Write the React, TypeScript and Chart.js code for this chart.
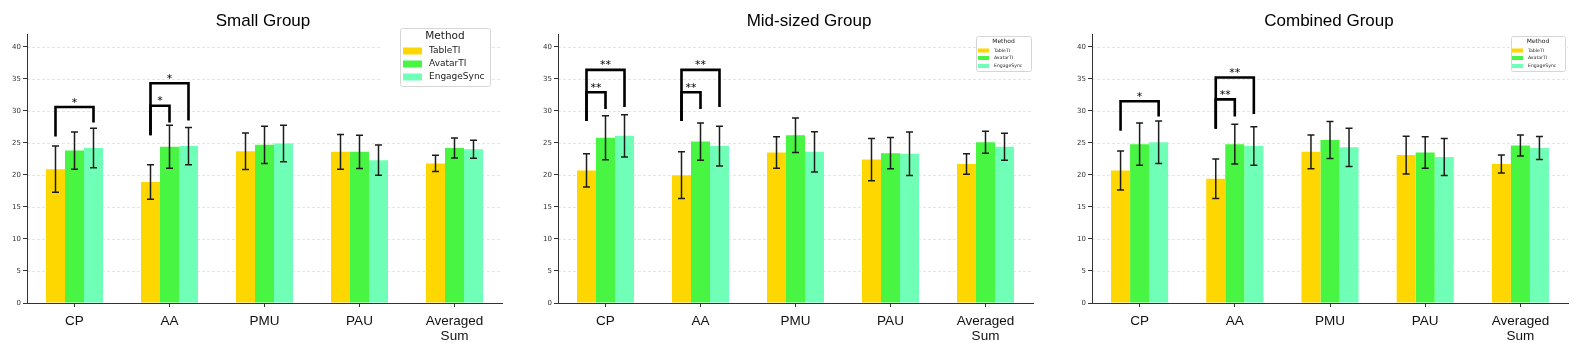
import React, { useEffect, useRef } from 'react';
import { Chart, registerables } from 'chart.js';

Chart.register(...registerables);

// ---------- data ----------
const CATEGORIES: (string | string[])[] = ['CP', 'AA', 'PMU', 'PAU', ['Averaged', 'Sum']];
const SERIES = ['TableTI', 'AvatarTI', 'EngageSync'];
const COLORS = ['#FFD700', '#48F542', '#70FFB6'];
const Y_TICKS = [0, 5, 10, 15, 20, 25, 30, 35, 40];
const Y_MAX = 42;

const SMALL_TABLETI = [20.9, 18.9, 23.7, 23.6, 21.8];
const SMALL_TABLETI_ERR = [3.6, 2.7, 2.85, 2.7, 1.25];
const SMALL_AVATARTI = [23.8, 24.4, 24.7, 23.6, 24.2];
const SMALL_AVATARTI_ERR = [2.9, 3.35, 2.9, 2.6, 1.55];
const SMALL_ENGAGESYNC = [24.2, 24.5, 24.9, 22.3, 24.0];
const SMALL_ENGAGESYNC_ERR = [3.1, 2.9, 2.85, 2.35, 1.4];

const MID_TABLETI = [20.7, 19.95, 23.5, 22.4, 21.7];
const MID_TABLETI_ERR = [2.6, 3.65, 2.45, 3.3, 1.6];
const MID_AVATARTI = [25.8, 25.2, 26.2, 23.4, 25.1];
const MID_AVATARTI_ERR = [3.45, 2.9, 2.7, 2.45, 1.7];
const MID_ENGAGESYNC = [26.1, 24.5, 23.6, 23.3, 24.4];
const MID_ENGAGESYNC_ERR = [3.3, 3.1, 3.15, 3.4, 2.1];

const COMB_TABLETI = [20.7, 19.4, 23.6, 23.1, 21.7];
const COMB_TABLETI_ERR = [3.05, 3.1, 2.65, 2.95, 1.4];
const COMB_AVATARTI = [24.8, 24.8, 25.45, 23.5, 24.6];
const COMB_AVATARTI_ERR = [3.3, 3.1, 2.9, 2.45, 1.65];
const COMB_ENGAGESYNC = [25.1, 24.5, 24.3, 22.8, 24.2];
const COMB_ENGAGESYNC_ERR = [3.3, 3.0, 3.0, 2.9, 1.8];

// significance brackets: category index, from/to series index, leg bottoms and top (data units)
const SMALL_BRACKETS = [
  { cat: 0, from: 0, to: 2, left: 26.0, right: 28.2, top: 30.6, label: '*' },
  { cat: 1, from: 0, to: 1, left: 26.2, right: 28.2, top: 30.8, label: '*' },
  { cat: 1, from: 0, to: 2, left: 26.2, right: 28.5, top: 34.3, label: '*' },
];
const MID_BRACKETS = [
  { cat: 0, from: 0, to: 1, left: 28.4, right: 30.3, top: 32.9, label: '**' },
  { cat: 0, from: 0, to: 2, left: 28.4, right: 30.6, top: 36.4, label: '**' },
  { cat: 1, from: 0, to: 1, left: 28.4, right: 30.3, top: 32.9, label: '**' },
  { cat: 1, from: 0, to: 2, left: 28.4, right: 30.6, top: 36.4, label: '**' },
];
const COMB_BRACKETS = [
  { cat: 0, from: 0, to: 2, left: 26.9, right: 29.1, top: 31.5, label: '*' },
  { cat: 1, from: 0, to: 1, left: 27.2, right: 29.1, top: 31.8, label: '**' },
  { cat: 1, from: 0, to: 2, left: 27.2, right: 29.5, top: 35.2, label: '**' },
];

// ---------- layout ----------
const PANELS = [
  {
    title: 'Small Group',
    values: [SMALL_TABLETI, SMALL_AVATARTI, SMALL_ENGAGESYNC],
    errors: [SMALL_TABLETI_ERR, SMALL_AVATARTI_ERR, SMALL_ENGAGESYNC_ERR],
    brackets: SMALL_BRACKETS,
    left: 0, width: 530, padRight: 28, titleX: 263,
    legend: { x: 400, y: 28, w: 90, h: 58, erase: 18, titleSize: 10.5, titleY: 36, labelSize: 9,
      rows: [51, 64, 77], patchX: 403, patchW: 19, patchH: 7, labelX: 429 },
  },
  {
    title: 'Mid-sized Group',
    values: [MID_TABLETI, MID_AVATARTI, MID_ENGAGESYNC],
    errors: [MID_TABLETI_ERR, MID_AVATARTI_ERR, MID_ENGAGESYNC_ERR],
    brackets: MID_BRACKETS,
    left: 531, width: 530, padRight: 28, titleX: 278,
    legend: { x: 445, y: 36, w: 55, h: 35, erase: 0, titleSize: 6, titleY: 41.5, labelSize: 4.6,
      rows: [50.5, 58, 66], patchX: 447, patchW: 11, patchH: 4, labelX: 463 },
  },
  {
    title: 'Combined Group',
    values: [COMB_TABLETI, COMB_AVATARTI, COMB_ENGAGESYNC],
    errors: [COMB_TABLETI_ERR, COMB_AVATARTI_ERR, COMB_ENGAGESYNC_ERR],
    brackets: COMB_BRACKETS,
    left: 1065, width: 513, padRight: 10, titleX: 264,
    legend: { x: 446, y: 36, w: 54, h: 35, erase: 0, titleSize: 6, titleY: 41.5, labelSize: 4.6,
      rows: [50.5, 58, 66], patchX: 447, patchW: 11, patchH: 4, labelX: 463 },
  },
];

const HEIGHT = 343;

function makeOverlay(panel: any) {
  return {
    id: 'overlay',
    beforeDatasetsDraw(chart: any) {
      const { ctx, chartArea } = chart;
      const y = chart.scales.y;
      ctx.save();
      ctx.strokeStyle = 'rgba(0,0,0,0.13)';
      ctx.lineWidth = 0.8;
      ctx.setLineDash([3, 2]);
      for (const v of Y_TICKS) {
        if (v === 0) continue;
        const py = Math.round(y.getPixelForValue(v)) + 0.5;
        ctx.beginPath();
        ctx.moveTo(chartArea.left, py);
        ctx.lineTo(chartArea.right, py);
        ctx.stroke();
      }
      ctx.restore();
    },
    afterDatasetsDraw(chart: any) {
      const { ctx } = chart;
      const y = chart.scales.y;
      ctx.save();
      // error bars
      ctx.strokeStyle = '#1c1c1c';
      ctx.lineWidth = 1.5;
      panel.errors.forEach((errArr: number[], di: number) => {
        const meta = chart.getDatasetMeta(di);
        meta.data.forEach((bar: any, i: number) => {
          const v = panel.values[di][i];
          const e = errArr[i];
          const x = bar.x;
          const yt = y.getPixelForValue(v + e);
          const yb = y.getPixelForValue(v - e);
          ctx.beginPath();
          ctx.moveTo(x, yt);
          ctx.lineTo(x, yb);
          ctx.moveTo(x - 3.5, yt);
          ctx.lineTo(x + 3.5, yt);
          ctx.moveTo(x - 3.5, yb);
          ctx.lineTo(x + 3.5, yb);
          ctx.stroke();
        });
      });
      // brackets
      ctx.strokeStyle = '#000';
      ctx.lineWidth = 2.6;
      ctx.lineJoin = 'miter';
      ctx.fillStyle = '#000';
      ctx.font = '11px "DejaVu Sans"';
      ctx.textAlign = 'center';
      ctx.textBaseline = 'alphabetic';
      for (const b of panel.brackets) {
        const x1 = chart.getDatasetMeta(b.from).data[b.cat].x;
        const x2 = chart.getDatasetMeta(b.to).data[b.cat].x;
        const yl = y.getPixelForValue(b.left);
        const yr = y.getPixelForValue(b.right);
        const yt = y.getPixelForValue(b.top);
        ctx.beginPath();
        ctx.moveTo(x1, yl);
        ctx.lineTo(x1, yt);
        ctx.lineTo(x2, yt);
        ctx.lineTo(x2, yr);
        ctx.stroke();
        ctx.fillText(b.label, (x1 + x2) / 2, yt - 1.5);
      }
      // legend
      const L = panel.legend;
      if (L.erase) {
        ctx.fillStyle = '#fff';
        ctx.fillRect(L.x - L.erase, L.y, L.erase, L.h);
      }
      ctx.fillStyle = 'rgba(255,255,255,0.9)';
      ctx.strokeStyle = '#d6d6d6';
      ctx.lineWidth = 1;
      ctx.beginPath();
      (ctx as any).roundRect ? ctx.roundRect(L.x + 0.5, L.y + 0.5, L.w, L.h, 2) : ctx.rect(L.x + 0.5, L.y + 0.5, L.w, L.h);
      ctx.fill();
      ctx.stroke();
      ctx.fillStyle = '#222';
      ctx.textAlign = 'center';
      ctx.textBaseline = 'middle';
      ctx.font = `${L.titleSize}px "DejaVu Sans"`;
      ctx.fillText('Method', L.x + L.w / 2, L.titleY);
      ctx.textAlign = 'left';
      ctx.font = `${L.labelSize}px "DejaVu Sans"`;
      SERIES.forEach((s, i) => {
        ctx.fillStyle = COLORS[i];
        ctx.fillRect(L.patchX, L.rows[i] - L.patchH / 2, L.patchW, L.patchH);
        ctx.fillStyle = '#222';
        ctx.fillText(s, L.labelX, L.rows[i]);
      });
      // title
      ctx.fillStyle = '#000';
      ctx.textAlign = 'center';
      ctx.textBaseline = 'alphabetic';
      ctx.font = '17px "Liberation Sans"';
      ctx.fillText(panel.title, panel.titleX, 26);
      ctx.restore();
    },
  };
}

function Panel({ panel }: { panel: any }) {
  const ref = useRef<HTMLCanvasElement>(null);
  useEffect(() => {
    if (!ref.current) return;
    const chart = new Chart(ref.current, {
      type: 'bar',
      data: {
        labels: CATEGORIES as any,
        datasets: SERIES.map((s, i) => ({
          label: s,
          data: panel.values[i],
          backgroundColor: COLORS[i],
          borderWidth: 0,
          categoryPercentage: 0.6,
          barPercentage: 1.0,
        })),
      },
      options: {
        animation: false,
        responsive: false,
        devicePixelRatio: 1,
        layout: { padding: { top: 34, right: panel.padRight, left: 0, bottom: 0 } },
        plugins: { legend: { display: false }, tooltip: { enabled: false }, title: { display: false } },
        scales: {
          x: {
            type: 'category',
            offset: true,
            grid: { offset: false, drawOnChartArea: false, tickColor: '#333', tickLength: 4, tickWidth: 1 },
            border: { color: '#333', width: 1 },
            ticks: {
              font: { family: '"Liberation Sans"', size: 13.5, lineHeight: 1.1 },
              color: '#111', padding: 7, maxRotation: 0, autoSkip: false,
            },
            afterFit: (s: any) => { s.height = 40; },
          },
          y: {
            min: 0,
            max: Y_MAX,
            afterBuildTicks: (s: any) => { s.ticks = Y_TICKS.map((v) => ({ value: v })); },
            afterFit: (s: any) => { s.width = 27; },
            grid: { drawOnChartArea: false, tickColor: '#333', tickLength: 4, tickWidth: 1 },
            border: { color: '#333', width: 1 },
            ticks: { font: { family: '"DejaVu Sans"', size: 7 }, color: '#333', padding: 2 },
          },
        },
      } as any,
      plugins: [makeOverlay(panel)],
    });
    return () => chart.destroy();
  }, [panel]);
  return (
    <canvas
      ref={ref}
      width={panel.width}
      height={HEIGHT}
      style={{ position: 'absolute', left: panel.left, top: 0, width: panel.width, height: HEIGHT }}
    />
  );
}

export default function App() {
  return (
    <div style={{ position: 'absolute', left: 0, top: 0, width: 1578, height: HEIGHT, background: '#fff' }}>
      {PANELS.map((p, i) => (
        <Panel key={i} panel={p} />
      ))}
    </div>
  );
}
